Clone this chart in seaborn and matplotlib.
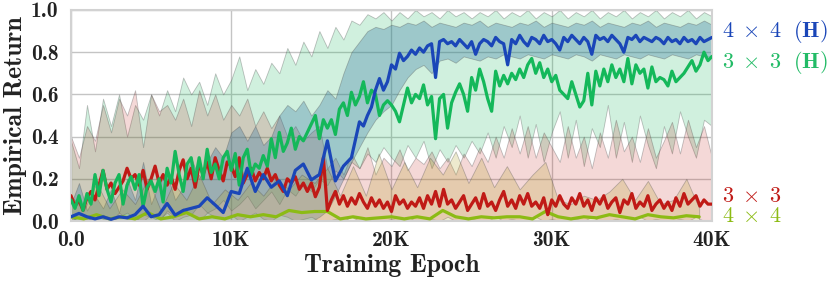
import numpy as np
import pandas as pd
import matplotlib
matplotlib.use("Agg")
import matplotlib.pyplot as plt
from matplotlib.colors import to_rgba
import seaborn as sns

# --- data (epochs, empirical return) ---
# 3x3 (H): mean every 250 epochs, band every 500
green_mean = [
    0.10, 0.06, 0.12, 0.05,
    0.13, 0.08, 0.22, 0.12,
    0.24, 0.15, 0.09, 0.18,
    0.22, 0.08, 0.17, 0.21,
    0.15, 0.22, 0.07, 0.16,
    0.19, 0.14, 0.20, 0.09,
    0.25, 0.18, 0.33, 0.22,
    0.14, 0.27, 0.30, 0.19,
    0.30, 0.20, 0.34, 0.23,
    0.27, 0.20, 0.30, 0.33,
    0.24, 0.32, 0.17, 0.30,
    0.34, 0.22, 0.27, 0.25,
    0.31, 0.26, 0.39, 0.30,
    0.42, 0.33, 0.37, 0.44,
    0.34, 0.40, 0.38, 0.42,
    0.46, 0.50, 0.39, 0.48,
    0.44, 0.48, 0.41, 0.53,
    0.56, 0.50, 0.61, 0.55,
    0.59, 0.66, 0.56, 0.62,
    0.60, 0.50, 0.55, 0.57,
    0.55, 0.52, 0.47, 0.55,
    0.63, 0.56, 0.60, 0.58,
    0.645, 0.55, 0.59, 0.39,
    0.58, 0.60, 0.44, 0.56,
    0.61, 0.65, 0.60, 0.52,
    0.68, 0.62, 0.72, 0.66,
    0.58, 0.52, 0.71, 0.64,
    0.69, 0.65, 0.70, 0.67,
    0.72, 0.68, 0.74, 0.77,
    0.70, 0.75, 0.68, 0.72,
    0.66, 0.69, 0.62, 0.60,
    0.58, 0.66, 0.60, 0.54,
    0.57, 0.70, 0.55, 0.71,
    0.64, 0.72, 0.66, 0.74,
    0.68, 0.72, 0.66, 0.77,
    0.65, 0.74, 0.70, 0.72,
    0.63, 0.73, 0.66, 0.68,
    0.67, 0.64, 0.71, 0.66,
    0.68, 0.70, 0.73, 0.76,
    0.71, 0.74, 0.80, 0.76,
    0.78,
]
green_hi = [
    0.38, 0.25, 0.55, 0.33, 0.58, 0.45, 0.60, 0.40, 0.55, 0.48,
    0.60, 0.50, 0.62, 0.52, 0.68, 0.60, 0.66, 0.55, 0.70, 0.60,
    0.67, 0.78, 0.62, 0.72, 0.65, 0.75, 0.70, 0.82, 0.74, 0.85,
    0.78, 0.90, 0.82, 0.92, 0.86, 0.95, 0.93, 0.98, 0.96, 0.99,
    0.95, 0.99, 0.96, 1.00, 0.97, 0.99, 0.96, 1.00, 0.97, 0.99,
    0.96, 0.99, 0.97, 1.00, 0.96, 0.99, 0.97, 1.00, 0.96, 0.99,
    0.97, 1.00, 0.96, 0.99, 0.97, 1.00, 0.96, 0.99, 0.97, 1.00,
    0.96, 0.99, 0.97, 1.00, 0.96, 0.99, 0.97, 1.00, 0.96, 0.99,
    0.97,
]
green_lo = [
    0.00, 0.02, 0.00, 0.03, 0.01, 0.00, 0.04, 0.01, 0.00, 0.03,
    0.02, 0.00, 0.05, 0.02, 0.06, 0.03, 0.08, 0.04, 0.06, 0.10,
    0.05, 0.08, 0.12, 0.06, 0.10, 0.14, 0.08, 0.15, 0.12, 0.18,
    0.14, 0.20, 0.17, 0.24, 0.20, 0.28, 0.25, 0.32, 0.28, 0.35,
    0.30, 0.26, 0.36, 0.30, 0.38, 0.25, 0.34, 0.28, 0.36, 0.30,
    0.38, 0.32, 0.42, 0.30, 0.45, 0.35, 0.50, 0.30, 0.46, 0.28,
    0.42, 0.52, 0.30, 0.48, 0.26, 0.44, 0.35, 0.55, 0.30, 0.47,
    0.28, 0.50, 0.36, 0.25, 0.45, 0.32, 0.52, 0.40, 0.30, 0.48,
    0.45,
]

# 3x3: mean every 250 epochs, band every 500
red_mean = [
    0.12, 0.07, 0.10, 0.05,
    0.11, 0.14, 0.10, 0.17,
    0.24, 0.15, 0.18, 0.13,
    0.16, 0.19, 0.25, 0.20,
    0.22, 0.17, 0.24, 0.15,
    0.20, 0.26, 0.18, 0.22,
    0.17, 0.21, 0.15, 0.24,
    0.29, 0.20, 0.25, 0.16,
    0.27, 0.22, 0.28, 0.20,
    0.30, 0.24, 0.19, 0.28,
    0.26, 0.21, 0.30, 0.18,
    0.22, 0.25, 0.19, 0.23,
    0.20, 0.25, 0.19, 0.22,
    0.17, 0.14, 0.20, 0.18,
    0.21, 0.15, 0.18, 0.14,
    0.18, 0.115, 0.16, 0.30,
    0.05, 0.10, 0.14, 0.08,
    0.12, 0.07, 0.11, 0.08,
    0.13, 0.09, 0.06, 0.11,
    0.07, 0.10, 0.06, 0.09,
    0.045, 0.12, 0.08, 0.10,
    0.06, 0.09, 0.07, 0.11,
    0.06, 0.12, 0.08, 0.14,
    0.07, 0.15, 0.08, 0.10,
    0.06, 0.09, 0.12, 0.05,
    0.08, 0.11, 0.06, 0.13,
    0.07, 0.09, 0.05, 0.10,
    0.14, 0.07, 0.10, 0.06,
    0.12, 0.08, 0.13, 0.07,
    0.09, 0.06, 0.11, 0.03,
    0.10, 0.07, 0.12, 0.08,
    0.06, 0.11, 0.08, 0.13,
    0.07, 0.10, 0.05, 0.11,
    0.08, 0.12, 0.06, 0.09,
    0.11, 0.04, 0.10, 0.08,
    0.13, 0.06, 0.09, 0.07,
    0.12, 0.05, 0.08, 0.10,
    0.06, 0.09, 0.05, 0.11,
    0.07, 0.13, 0.08, 0.10,
    0.12, 0.07, 0.10, 0.08,
    0.08,
]
red_hi = [
    0.40, 0.30, 0.45, 0.38, 0.55, 0.42, 0.58, 0.50, 0.62, 0.35,
    0.60, 0.52, 0.55, 0.48, 0.58, 0.45, 0.62, 0.50, 0.60, 0.48,
    0.55, 0.50, 0.58, 0.45, 0.52, 0.44, 0.50, 0.40, 0.45, 0.38,
    0.42, 0.45, 0.25, 0.30, 0.22, 0.32, 0.25, 0.35, 0.22, 0.30,
    0.26, 0.34, 0.24, 0.30, 0.27, 0.33, 0.25, 0.30, 0.22, 0.32,
    0.26, 0.35, 0.28, 0.40, 0.30, 0.44, 0.32, 0.45, 0.30, 0.42,
    0.35, 0.28, 0.45, 0.30, 0.40, 0.25, 0.42, 0.30, 0.48, 0.33,
    0.40, 0.28, 0.44, 0.30, 0.38, 0.47, 0.32, 0.48, 0.35, 0.45,
    0.30,
]
red_lo = [
    0.00, 0.02, 0.00, 0.01, 0.03, 0.00, 0.02, 0.04, 0.01, 0.00,
    0.03, 0.01, 0.04, 0.00, 0.02, 0.03, 0.00, 0.04, 0.02, 0.01,
    0.03, 0.00, 0.02, 0.04, 0.01, 0.00, 0.03, 0.02, 0.00, 0.01,
    0.02, 0.00, 0.00, 0.01, 0.00, 0.02, 0.00, 0.01, 0.00, 0.00,
    0.01, 0.00, 0.02, 0.00, 0.00, 0.01, 0.00, 0.02, 0.00, 0.00,
    0.01, 0.00, 0.00, 0.02, 0.00, 0.01, 0.00, 0.00, 0.02, 0.00,
    0.01, 0.00, 0.00, 0.01, 0.00, 0.02, 0.00, 0.00, 0.01, 0.00,
    0.00, 0.02, 0.00, 0.01, 0.00, 0.00, 0.01, 0.00, 0.02, 0.00,
    0.00,
]

# 4x4 (H): coarse logging to 18K (every 500), then every 250; band every 500
blue_mean_early = [
    0.02, 0.036, 0.02, 0.01, 0.02, 0.008, 0.02, 0.015, 0.03, 0.07,
    0.02, 0.03, 0.083, 0.028, 0.05, 0.06, 0.07, 0.11, 0.076, 0.04,
    0.14, 0.13, 0.25, 0.14, 0.22, 0.16, 0.19, 0.12, 0.24, 0.27,
    0.195, 0.22, 0.38, 0.19, 0.26, 0.30, 0.47,
]
blue_mean_late = [
    0.45, 0.50, 0.54,
    0.62, 0.675, 0.62, 0.66,
    0.74, 0.72, 0.795, 0.76,
    0.78, 0.81, 0.79, 0.82,
    0.80, 0.83, 0.84, 0.68,
    0.85, 0.86, 0.84, 0.85,
    0.83, 0.86, 0.84, 0.82,
    0.85, 0.79, 0.84, 0.86,
    0.85, 0.83, 0.87, 0.85,
    0.84, 0.74, 0.86, 0.84,
    0.88, 0.85, 0.83, 0.87,
    0.86, 0.84, 0.88, 0.85,
    0.86, 0.84, 0.81, 0.87,
    0.85, 0.88, 0.86, 0.84,
    0.87, 0.85, 0.79, 0.88,
    0.86, 0.87, 0.85, 0.88,
    0.86, 0.84, 0.80, 0.87,
    0.86, 0.88, 0.85, 0.87,
    0.86, 0.85, 0.87, 0.86,
    0.84, 0.87, 0.85, 0.86,
    0.84, 0.87, 0.85, 0.86,
    0.84, 0.87, 0.85, 0.86,
    0.87,
]
blue_hi = [
    0.08, 0.18, 0.05, 0.12, 0.06, 0.15, 0.04, 0.20, 0.10, 0.28,
    0.08, 0.18, 0.22, 0.10, 0.16, 0.30, 0.20, 0.28, 0.35, 0.30,
    0.42, 0.45, 0.38, 0.45, 0.36, 0.40, 0.50, 0.55, 0.52, 0.57,
    0.50, 0.55, 0.62, 0.58, 0.70, 0.80, 0.85, 0.90, 0.92, 0.91,
    0.93, 0.92, 0.94, 0.93, 0.95, 0.92, 0.94, 0.93, 0.92, 0.94,
    0.93, 0.95, 0.92, 0.94, 0.93, 0.92, 0.94, 0.93, 0.95, 0.92,
    0.94, 0.93, 0.92, 0.94, 0.93, 0.95, 0.92, 0.94, 0.93, 0.92,
    0.94, 0.93, 0.95, 0.92, 0.94, 0.93, 0.92, 0.94, 0.93, 0.95,
    0.93,
]
blue_lo = [
    0.00, 0.00, 0.00, 0.00, 0.00, 0.00, 0.00, 0.00, 0.00, 0.00,
    0.00, 0.00, 0.00, 0.00, 0.00, 0.00, 0.00, 0.00, 0.00, 0.00,
    0.00, 0.00, 0.00, 0.00, 0.00, 0.00, 0.00, 0.00, 0.00, 0.00,
    0.00, 0.02, 0.05, 0.12, 0.20, 0.28, 0.35, 0.42, 0.48, 0.52,
    0.55, 0.62, 0.68, 0.72, 0.74, 0.70, 0.76, 0.77, 0.75, 0.78,
    0.77, 0.76, 0.78, 0.77, 0.79, 0.78, 0.77, 0.79, 0.78, 0.77,
    0.79, 0.78, 0.77, 0.79, 0.78, 0.76, 0.79, 0.78, 0.77, 0.79,
    0.78, 0.77, 0.79, 0.78, 0.77, 0.79, 0.78, 0.77, 0.79, 0.78,
    0.78,
]

# 4x4: every 800 epochs, stops at 39.2K
yellow_mean = [
    0.02, 0.01, 0.03, 0.01, 0.02, 0.01, 0.04, 0.01, 0.02, 0.04,
    0.01, 0.02, 0.01, 0.03, 0.02, 0.03, 0.02, 0.05, 0.04, 0.045,
    0.045, 0.01, 0.02, 0.01, 0.015, 0.02, 0.01, 0.02, 0.01, 0.05,
    0.02, 0.01, 0.02, 0.015, 0.02, 0.02, 0.01, 0.045, 0.02, 0.01,
    0.02, 0.015, 0.03, 0.02, 0.01, 0.03, 0.02, 0.015, 0.025, 0.02,
]
yellow_hi = [
    0.12, 0.05, 0.18, 0.06, 0.15, 0.08, 0.20, 0.05, 0.18, 0.10,
    0.22, 0.08, 0.15, 0.10, 0.18, 0.12, 0.20, 0.15, 0.22, 0.18,
    0.25, 0.12, 0.26, 0.12, 0.32, 0.15, 0.28, 0.16, 0.30, 0.22,
    0.33, 0.18, 0.30, 0.16, 0.26, 0.15, 0.22, 0.28, 0.10, 0.08,
    0.12, 0.10, 0.14, 0.20, 0.10, 0.19, 0.08, 0.10, 0.20, 0.06,
]

x_dense = np.arange(len(green_mean)) * 250
x_band = np.arange(len(green_hi)) * 500
x_blue = np.concatenate([np.arange(len(blue_mean_early)) * 500,
                         18250 + np.arange(len(blue_mean_late)) * 250])
blue_mean = blue_mean_early + blue_mean_late
x_yellow = np.arange(len(yellow_mean)) * 800

c_blue = "#1a46b8"
c_green = "#14b85a"
c_red = "#c01a16"
c_yellow = "#8cbb14"

sns.set_theme(style="whitegrid")
plt.rcParams["font.family"] = ["cmb10", "DejaVu Serif"]
plt.rcParams["mathtext.fontset"] = "cm"
plt.rcParams["axes.unicode_minus"] = False

fig = plt.figure(figsize=(8.31, 2.81), dpi=100)
ax = fig.add_axes([0.0854, 0.2135, 0.7714, 0.751])


def band(x, lo, hi, color, alpha):
    ax.fill_between(x, lo, hi, facecolor=to_rgba(color, alpha),
                    edgecolor=(0.3, 0.3, 0.3, 0.35), linewidth=0.6, zorder=1)


band(x_band, green_lo, green_hi, c_green, 0.2)
band(x_band, red_lo, red_hi, c_red, 0.17)
band(x_band, blue_lo, blue_hi, "#2a6d9e", 0.3)
band(x_yellow, np.zeros(len(yellow_hi)), yellow_hi, "#b0a020", 0.22)

lines = [
    (x_yellow, yellow_mean, c_yellow),
    (x_dense, red_mean, c_red),
    (x_dense, green_mean, c_green),
    (x_blue, blue_mean, c_blue),
]
for xs, ys, col in lines:
    df = pd.DataFrame({"epoch": xs, "ret": ys})
    sns.lineplot(data=df, x="epoch", y="ret", color=col, linewidth=2.3,
                 ax=ax, zorder=3)

ax.set_xlim(0, 40000)
ax.set_ylim(0, 1.0)
ax.set_xticks([0, 10000, 20000, 30000, 40000])
ax.set_xticklabels(["0.0", "10K", "20K", "30K", "40K"])
ax.set_yticks([0, 0.2, 0.4, 0.6, 0.8, 1.0])
ax.set_yticklabels(["0.0", "0.2", "0.4", "0.6", "0.8", "1.0"])
ax.tick_params(axis="both", labelsize=15.5, colors="#222222", length=0)
ax.tick_params(axis="y", pad=9)
ax.tick_params(axis="x", pad=7)
ax.set_xlabel("Training Epoch", fontsize=18.5, color="#222222", labelpad=3)
ax.set_ylabel("Empirical Return", fontsize=18.5, color="#222222", labelpad=3)
ax.grid(True, color="#c4c4c4", linewidth=1.0)
ax.set_axisbelow(True)
ax.set_facecolor("white")
for s in ax.spines.values():
    s.set_color("#d2d2d2")
    s.set_linewidth(1.5)

tr = ax.get_yaxis_transform()
labels = [
    (0.896, r"$\mathbf{4}\;\times\;\mathbf{4}\ \ \mathbf{(H)}$", c_blue),
    (0.749, r"$\mathbf{3}\;\times\;\mathbf{3}\ \ \mathbf{(H)}$", "#22bb66"),
    (0.114, r"$\mathbf{3}\;\times\;\mathbf{3}$", c_red),
    (0.019, r"$\mathbf{4}\;\times\;\mathbf{4}$", c_yellow),
]
for yv, txt, col in labels:
    ax.text(1.016, yv, txt, transform=tr, color=col, fontsize=16,
            va="center", ha="left", clip_on=False)

fig.savefig("out.png", dpi=100)
